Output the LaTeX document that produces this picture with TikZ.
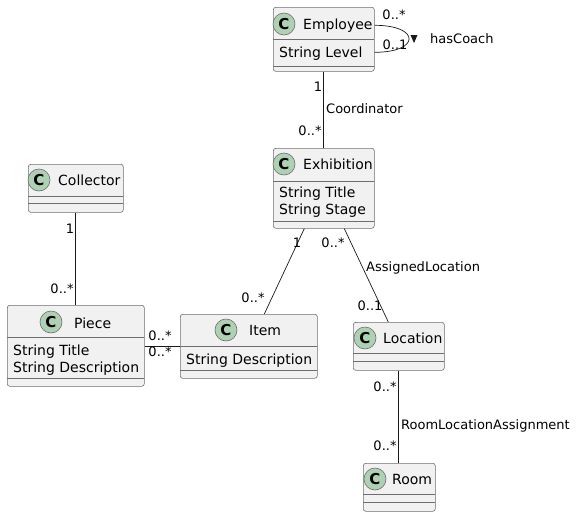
\documentclass[tikz,border=0pt]{standalone}
\usepackage{fontspec}
\setmainfont{DejaVu Sans}
\usetikzlibrary{calc}
\definecolor{boxfill}{HTML}{F1F1F1}
\definecolor{ink}{HTML}{181818}
\definecolor{frame}{HTML}{6E6E6E}
\definecolor{spot}{HTML}{ADD1B2}

\tikzset{
  classbox/.style={draw=frame, fill=boxfill, rounded corners=2.5pt, line width=0.6pt,
    inner sep=0pt, anchor=north west},
  spotc/.style={circle, draw=frame, fill=spot, line width=0.6pt, minimum size=22pt,
    inner sep=0pt, font=\fontsize{15}{15}\selectfont\bfseries},
  cname/.style={anchor=base west, inner sep=0pt, font=\fontsize{14}{16}\selectfont},
  attr/.style={anchor=base west, inner sep=0pt, font=\fontsize{14}{16}\selectfont},
  sepline/.style={draw=frame, line width=0.6pt},
  assoc/.style={draw=ink, line width=0.7pt},
  mult/.style={inner sep=0pt, font=\fontsize{13}{15}\selectfont},
  rolelabel/.style={anchor=west, inner sep=0pt, font=\fontsize{13}{15}\selectfont},
}

\begin{document}
\begin{tikzpicture}[x=1pt, y=-1pt]
\useasboundingbox (0,0) rectangle (576,517);

% ---------- Employee ----------
\node[classbox, minimum width=101pt, minimum height=64pt] (employee) at (273,7) {};
\draw[sepline] (273,39) -- (374,39);
\draw[sepline] (273,66) -- (374,66);
\node[spotc] (employeeC) at (284,24) {C};
\node[cname] (employeeN) at (303,29) {Employee};
\node[attr] (employeeA) at (279,57) {String Level};

% ---------- Exhibition ----------
\node[classbox, minimum width=101pt, minimum height=80pt] (exhibition) at (273,148) {};
\draw[sepline] (273,181) -- (374,181);
\draw[sepline] (273,221) -- (374,221);
\node[spotc] (exhibitionC) at (284,164) {C};
\node[cname] (exhibitionN) at (303,169) {Exhibition};
\node[attr] (exhibitionA1) at (279,197) {String Title};
\node[attr] (exhibitionA2) at (279,214) {String Stage};

% ---------- Collector ----------
\node[classbox, minimum width=95pt, minimum height=48pt] (collector) at (28,164) {};
\draw[sepline] (28,196) -- (123,196);
\draw[sepline] (28,203) -- (123,203);
\node[spotc] (collectorC) at (39,180) {C};
\node[cname] (collectorN) at (58,185) {Collector};

% ---------- Piece ----------
\node[classbox, minimum width=137pt, minimum height=81pt] (piece) at (7,305) {};
\draw[sepline] (7,337) -- (144,337);
\draw[sepline] (7,378) -- (144,378);
\node[spotc] (pieceC) at (51,322) {C};
\node[cname] (pieceN) at (74,328) {Piece};
\node[attr] (pieceA1) at (13,355) {String Title};
\node[attr] (pieceA2) at (13,372) {String Description};

% ---------- Item ----------
\node[classbox, minimum width=137pt, minimum height=64pt] (item) at (180,314) {};
\draw[sepline] (180,346) -- (317,346);
\draw[sepline] (180,370) -- (317,370);
\node[spotc] (itemC) at (226,330) {C};
\node[cname] (itemN) at (249,335) {Item};
\node[attr] (itemA) at (186,364) {String Description};

% ---------- Location ----------
\node[classbox, minimum width=91pt, minimum height=48pt] (location) at (353,322) {};
\draw[sepline] (353,353) -- (444,353);
\draw[sepline] (353,361) -- (444,361);
\node[spotc] (locationC) at (365,338) {C};
\node[cname] (locationN) at (383,343) {Location};

% ---------- Room ----------
\node[classbox, minimum width=72pt, minimum height=48pt] (room) at (363,463) {};
\draw[sepline] (363,494) -- (435,494);
\draw[sepline] (363,502) -- (435,502);
\node[spotc] (roomC) at (375,479) {C};
\node[cname] (roomN) at (392,484) {Room};

% ---------- hasCoach (self association) ----------
\draw[assoc] ([yshift=14pt]employee.east) .. controls +(46pt,0pt) and +(46pt,0pt) .. ([yshift=-13pt]employee.east);
\node[mult] (coachM1) at (394,15) {0..*};
\node[mult] (coachM2) at (395,45) {0..1};
\fill[ink] (410.5,35) -- (417.5,35) -- (414,43) -- cycle;
\node[rolelabel] (coachL) at (430,39) {hasCoach};

% ---------- Coordinator ----------
\draw[assoc] (employee.south) -- (exhibition.north);
\node[mult] (coordM1) at (318,87) {1};
\node[rolelabel] (coordL) at (326,109) {Coordinator};
\node[mult] (coordM2) at (310,131) {0..*};

% ---------- Exhibition -- Item ----------
\draw[assoc] ([xshift=-19.5pt]exhibition.south) -- ([xshift=15.5pt]item.north);
\node[mult] (exItemM1) at (297,243) {1};
\node[mult] (exItemM2) at (253,298) {0..*};

% ---------- AssignedLocation ----------
\draw[assoc] ([xshift=20.5pt]exhibition.south) -- ([xshift=-10.5pt]location.north);
\node[mult] (assignM1) at (333,243) {0..*};
\node[rolelabel] (assignL) at (366,268) {AssignedLocation};
\node[mult] (assignM2) at (370,306) {0..1};

% ---------- Collector -- Piece ----------
\draw[assoc] (collector.south) -- (piece.north);
\node[mult] (collM1) at (70,229) {1};
\node[mult] (collM2) at (62,289) {0..*};

% ---------- Piece -- Item ----------
\draw[assoc] (item.west -| piece.east) -- (item.west);
\node[mult] (pieceItemM1) at (160,336) {0..*};
\node[mult] (pieceItemM2) at (160,352) {0..*};

% ---------- RoomLocationAssignment ----------
\draw[assoc] (location.south) -- (location.south |- room.north);
\node[mult] (roomM1) at (385,387) {0..*};
\node[rolelabel] (roomL) at (401,426) {RoomLocationAssignment};
\node[mult] (roomM2) at (385,446) {0..*};

\end{tikzpicture}
\end{document}
